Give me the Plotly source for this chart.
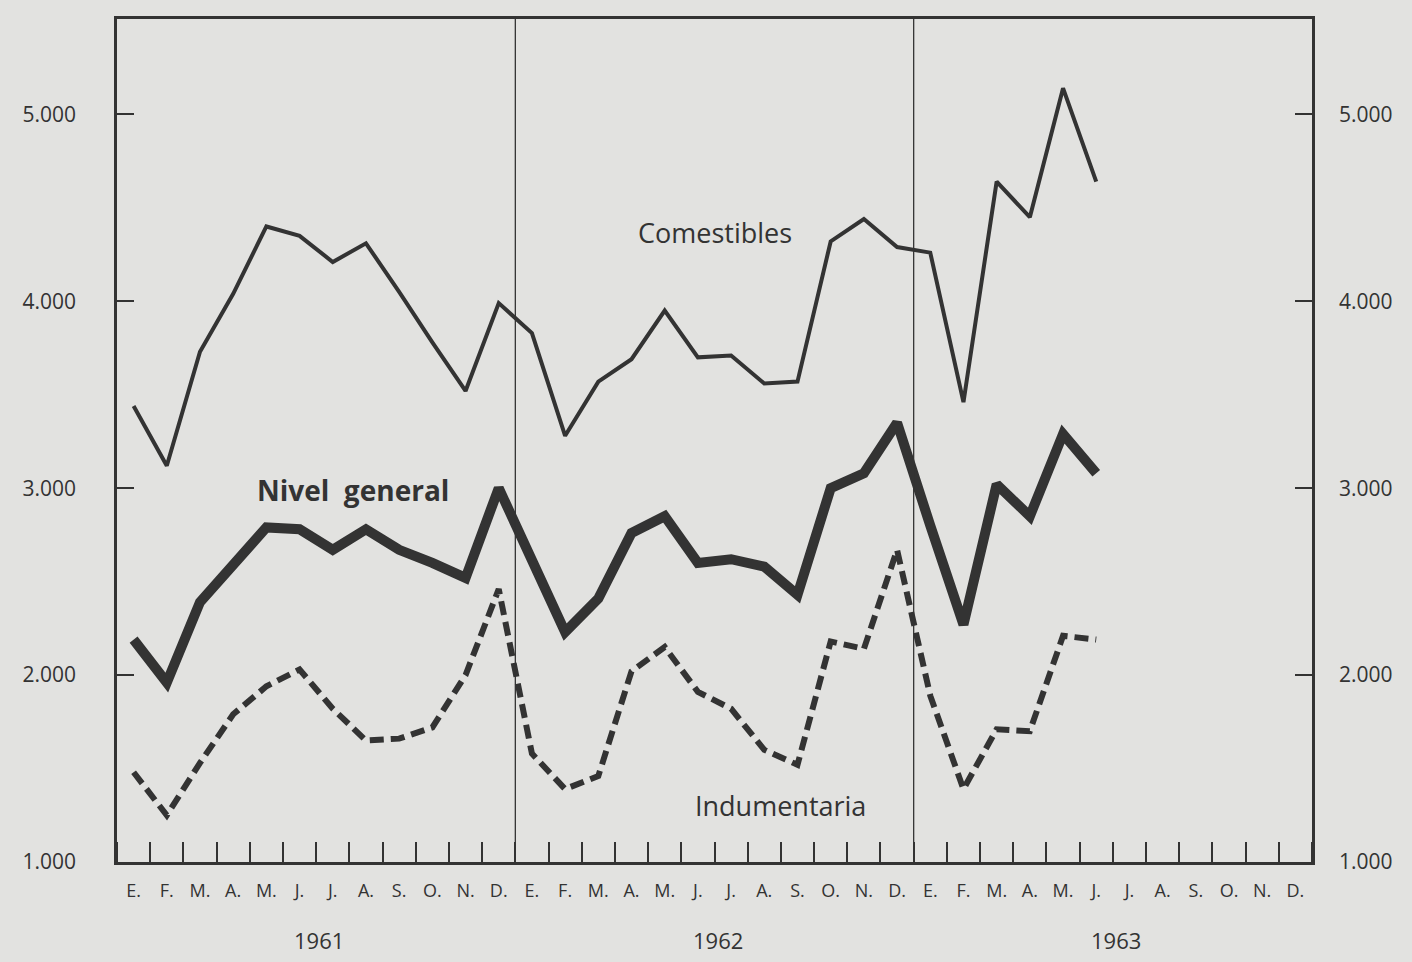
import plotly.graph_objects as go

# ---- data -------------------------------------------------------------
month_labels = ["E.", "F.", "M.", "A.", "M.", "J.", "J.", "A.", "S.", "O.", "N.", "D."] * 3
years = ["1961", "1962", "1963"]
y_tick_values = [1000, 2000, 3000, 4000, 5000]
y_tick_labels = ["1.000", "2.000", "3.000", "4.000", "5.000"]

comestibles = [3440, 3120, 3730, 4040, 4400, 4350, 4210, 4310, 4050, 3780, 3520, 3990,
               3830, 3280, 3570, 3690, 3950, 3700, 3710, 3560, 3570, 4320, 4440, 4290,
               4260, 3460, 4640, 4450, 5140, 4640]
nivel_general = [2190, 1960, 2390, 2590, 2790, 2780, 2670, 2780, 2670, 2600, 2520, 3000,
                 2600, 2230, 2410, 2760, 2850, 2600, 2620, 2580, 2430, 3000, 3080, 3350,
                 2800, 2270, 3020, 2850, 3290, 3080]
indumentaria = [1480, 1250, 1530, 1790, 1940, 2030, 1820, 1650, 1660, 1720, 2000, 2460,
                1580, 1390, 1460, 2020, 2150, 1910, 1820, 1600, 1520, 2180, 2140, 2670,
                1890, 1390, 1710, 1700, 2210, 2190]

# ---- styling ----------------------------------------------------------
BG = "#e2e2e0"
INK = "#333333"
FONT = "'Open Sans', 'Noto Sans', sans-serif"

n_months = len(month_labels)
x_mid = [i + 0.5 for i in range(n_months)]


def xs(series):
    return [i + 0.5 for i in range(len(series))]


fig = go.Figure()

fig.add_trace(go.Scatter(x=xs(comestibles), y=comestibles, mode="lines",
                         line=dict(color=INK, width=4), hoverinfo="skip",
                         showlegend=False))
fig.add_trace(go.Scatter(x=xs(nivel_general), y=nivel_general, mode="lines",
                         line=dict(color=INK, width=10), hoverinfo="skip",
                         showlegend=False))
fig.add_trace(go.Scatter(x=xs(indumentaria), y=indumentaria, mode="lines",
                         line=dict(color=INK, width=6, dash="14px,7px"),
                         hoverinfo="skip", showlegend=False))
# invisible trace to anchor the right-hand axis
fig.add_trace(go.Scatter(x=xs(comestibles), y=comestibles, mode="lines", yaxis="y2",
                         line=dict(color="rgba(0,0,0,0)", width=0), hoverinfo="skip",
                         showlegend=False))

y_range = [1000, 5510]

fig.update_layout(
    width=1412, height=962,
    margin=dict(l=117, r=100, t=19, b=100),
    paper_bgcolor=BG, plot_bgcolor=BG,
    font=dict(family=FONT, color=INK),
    showlegend=False,
    xaxis=dict(
        range=[0, n_months], showgrid=False, zeroline=False,
        tickmode="array", tickvals=x_mid, ticktext=month_labels,
        ticks="", tickfont=dict(size=18, color=INK),
        ticklabelstandoff=10,
        showline=True, linecolor=INK, linewidth=3, mirror=True,
        minor=dict(tickmode="linear", tick0=0, dtick=1, ticks="inside",
                   ticklen=20, tickwidth=2, tickcolor=INK, showgrid=False),
    ),
    yaxis=dict(
        range=y_range, showgrid=False, zeroline=False,
        tickmode="array", tickvals=y_tick_values, ticktext=y_tick_labels,
        ticks="inside", ticklen=17, tickwidth=2, tickcolor=INK,
        tickfont=dict(size=21, color=INK), ticklabelstandoff=34,
        showline=True, linecolor=INK, linewidth=2.5, mirror=True,
    ),
    yaxis2=dict(
        range=y_range, overlaying="y", side="right", showgrid=False,
        zeroline=False, tickmode="array", tickvals=y_tick_values,
        ticktext=y_tick_labels, ticks="inside", ticklen=17, tickwidth=2,
        tickcolor=INK, tickfont=dict(size=21, color=INK), ticklabelstandoff=26,
        showline=False,
    ),
)

# year separators
for xb in (12, 24):
    fig.add_shape(type="line", xref="x", yref="paper", x0=xb, x1=xb, y0=0, y1=1,
                  line=dict(color=INK, width=1.3))

# year labels
for k, yr in enumerate(years):
    fig.add_annotation(x=12 * k + 6.1, y=-0.093, xref="x", yref="paper", text=yr,
                       showarrow=False, font=dict(size=22, color=INK),
                       xanchor="center", yanchor="middle")

# series labels
fig.add_annotation(x=18.0, y=4370, xref="x", yref="y", text="Comestibles",
                   showarrow=False, font=dict(size=27, color=INK))
fig.add_annotation(x=7.1, y=2990, xref="x", yref="y", text="<b>Nivel  general</b>",
                   showarrow=False, font=dict(size=28, color=INK))
fig.add_annotation(x=20.0, y=1300, xref="x", yref="y", text="Indumentaria",
                   showarrow=False, font=dict(size=27, color=INK))

fig.write_html("out.html", config={"displayModeBar": False},
               post_script="document.body.style.margin='0';")
